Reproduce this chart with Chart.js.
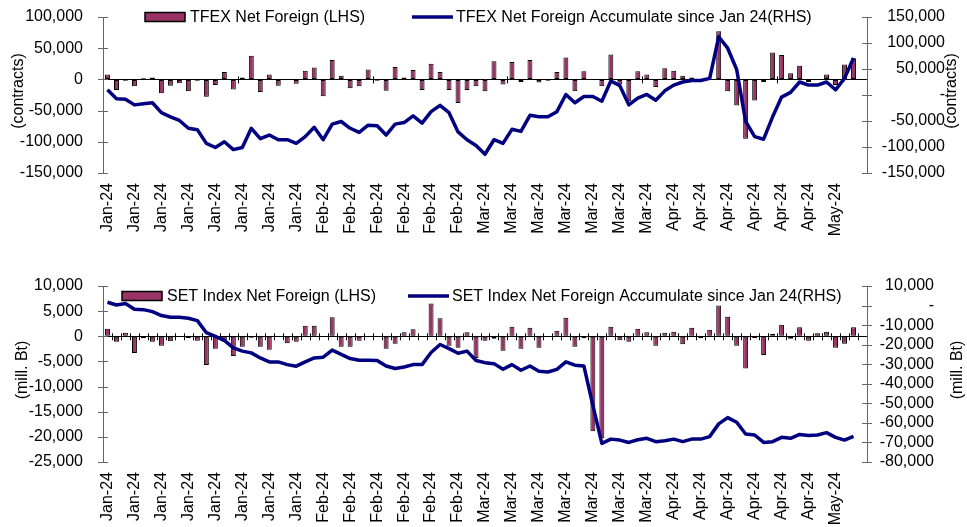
<!DOCTYPE html>
<html>
<head>
<meta charset="utf-8">
<script src="https://cdn.jsdelivr.net/npm/chart.js@4/dist/chart.umd.min.js"></script>
<style>
  body { margin: 0; background: #fff; }
  #wrap { position: relative; width: 967px; height: 527px; }
  canvas { position: absolute; left: 0; }
</style>
</head>
<body>
<div id="wrap">
  <canvas id="tfexChart" width="967" height="263" style="top:0"></canvas>
  <canvas id="setChart" width="967" height="264" style="top:263px"></canvas>
</div>
<script>
// x axis: one label every 3rd trading day
const tickLabels = [
  'Jan-24', 'Jan-24', 'Jan-24', 'Jan-24', 'Jan-24', 'Jan-24', 'Jan-24', 'Jan-24',
  'Feb-24', 'Feb-24', 'Feb-24', 'Feb-24', 'Feb-24', 'Feb-24',
  'Mar-24', 'Mar-24', 'Mar-24', 'Mar-24', 'Mar-24', 'Mar-24', 'Mar-24',
  'Apr-24', 'Apr-24', 'Apr-24', 'Apr-24', 'Apr-24', 'Apr-24',
  'May-24'
];
const nCategories = 85;

// TFEX net foreign, contracts (LHS)
const tfexNet = [
  8000, -17000, -2000, -11000, 2000, 3000, -22000, -10000, -6000, -19000,
  -2000, -28000, -9000, 12000, -16000, 3000, 38000, -20000, 8000, -10000,
  -1000, -7000, 14000, 19000, -27000, 31000, 6000, -14000, -11000, 16000,
  -2000, -18000, 20000, 3000, 15000, -17000, 25000, 12000, -17000, -38000,
  -17000, -11000, -19000, 29000, -8000, 28000, -4000, 31000, -5000, -2000,
  12000, 35000, -19000, 13000, -1000, -11000, 40000, -8000, -35000, 13000,
  8000, -12000, 18000, 14000, 6000, 3000, 1000, 1000, 77000, -19000,
  -42000, -95000, -34000, -4000, 43000, 39000, 10000, 22000, -4000, -1000,
  8000, -9000, 24000, 34000
];
// TFEX accumulate since Jan 24 (RHS)
const tfexAccum = [
  10000, -7000, -8000, -19000, -17000, -15000, -34000, -42000, -49000, -64000,
  -67000, -93000, -101000, -90000, -105000, -101000, -64000, -84000, -77000, -86000,
  -86000, -93000, -80000, -62000, -86000, -56000, -51000, -64000, -72000, -58000,
  -59000, -77000, -56000, -53000, -40000, -54000, -32000, -20000, -34000, -71000,
  -86000, -97000, -114000, -86000, -93000, -66000, -70000, -39000, -42000, -42000,
  -32000, 1000, -15000, -3000, -3000, -12000, 27000, 18000, -19000, -6000,
  1000, -10000, 8000, 19000, 25000, 28000, 28000, 32000, 112000, 90000,
  49000, -51000, -80000, -85000, -42000, -4000, 5000, 25000, 19000, 19000,
  25000, 10000, 32000, 71000
];

// SET index net foreign, mill. Bt (LHS)
const setNet = [
  1500, -1100, 700, -3300, -400, -1100, -1900, -1000, -100, -400,
  -900, -5700, -2500, -1100, -3900, -2100, -300, -2100, -2700, 100,
  -1400, -1100, 2100, 2100, 100, 3800, -2100, -2100, -900, -100,
  -100, -2500, -1500, 800, 1400, -100, 6500, 3600, -1900, -2300,
  800, -4300, -900, -500, -2900, 1900, -2500, 1700, -2300, -100,
  1100, 3700, -2100, -400, -18900, -20300, 1900, -800, -1100, 1500,
  800, -1900, 700, 900, -1600, 1700, -400, 1300, 6100, 3900,
  -1900, -6400, -400, -3700, 500, 2300, -500, 1800, -900, 600,
  900, -2300, -1500, 1800
];
// SET index accumulate since Jan 24 (RHS)
const setAccum = [
  1700, 300, 1000, -1900, -2100, -3100, -5100, -6000, -6000, -6500,
  -7700, -13900, -15800, -17800, -21600, -23300, -24200, -26800, -28800, -28800,
  -30200, -31000, -28800, -26800, -26400, -22800, -25000, -27100, -28000, -28000,
  -28100, -30900, -32200, -31400, -30200, -30200, -24000, -19900, -22000, -24400,
  -23300, -28100, -29200, -29700, -32600, -30200, -33100, -30900, -33600, -34000,
  -32600, -28800, -30500, -30900, -51000, -70500, -68300, -68800, -70000, -68600,
  -67900, -69600, -69100, -68300, -69600, -68300, -68300, -67000, -60500, -57300,
  -59700, -65700, -66200, -70000, -69600, -67400, -67900, -65900, -66500, -66200,
  -65000, -67400, -68800, -66900
];

const categories = Array.from({ length: nCategories }, (_, i) =>
  i % 3 === 0 ? (tickLabels[i / 3] || '') : '');

Chart.defaults.font.family = "'Liberation Sans', Arial, Helvetica, sans-serif";
Chart.defaults.font.size = 16;
Chart.defaults.color = '#000';

const fmt = v => Math.round(v).toLocaleString('en-US');

// axis titles, legend, crossing tick marks
const overlay = {
  id: 'overlay',
  beforeDatasetsDraw(chart, args, o) {
    const c = chart.ctx, x = chart.scales.x, y = chart.scales.y;
    const y0 = y.getPixelForValue(0);
    c.save();
    c.strokeStyle = '#000';
    c.lineWidth = 1;
    for (let k = o.catTickEvery; k < nCategories; k += o.catTickEvery) {
      const px = Math.round((x.getPixelForValue(k - 1) + x.getPixelForValue(k)) / 2) + 0.5;
      c.beginPath();
      c.moveTo(px, y0 - 3);
      c.lineTo(px, y0 + 4);
      c.stroke();
    }
    c.restore();
  },
  afterDraw(chart, args, o) {
    const c = chart.ctx, a = chart.chartArea;
    const yl = chart.scales.y, yr = chart.scales.y1;
    c.save();
    c.strokeStyle = '#666';
    c.lineWidth = 1;
    [[yl, a.left], [yr, a.right]].forEach(([s, ax]) => {
      s.ticks.forEach(t => {
        const py = Math.round(s.getPixelForValue(t.value)) + 0.5;
        c.beginPath();
        c.moveTo(ax - 5, py);
        c.lineTo(ax + 5, py);
        c.stroke();
      });
    });

    c.fillStyle = '#000';
    c.font = "16px 'Liberation Sans', Arial, sans-serif";
    c.textAlign = 'center';
    c.textBaseline = 'middle';
    const midY = (a.top + a.bottom) / 2;
    [[o.leftTitleX, o.leftTitle], [o.rightTitleX, o.rightTitle]].forEach(([tx, txt]) => {
      c.save();
      c.translate(tx, midY - 4);
      c.rotate(-Math.PI / 2);
      c.fillText(txt, 0, 0);
      c.restore();
    });

    // legend
    const L = o.legend;
    c.fillStyle = '#993366';
    c.fillRect(L.barX, L.y - 4.5, 40, 9);
    c.strokeStyle = '#000';
    c.lineWidth = 1.5;
    c.strokeRect(L.barX, L.y - 4.5, 40, 9);
    c.strokeStyle = '#000080';
    c.lineWidth = 3.5;
    c.beginPath();
    c.moveTo(L.lineX, L.y);
    c.lineTo(L.lineX + 41, L.y);
    c.stroke();
    c.fillStyle = '#000';
    c.textAlign = 'left';
    c.fillText(chart.data.datasets[1].label, L.barX + 45, L.y + 1);
    c.fillText(chart.data.datasets[0].label, L.lineX + 44, L.y + 1);
    c.restore();
  }
};

function makeChart(id, cfg) {
  const canvas = document.getElementById(id);
  return new Chart(canvas.getContext('2d'), {
    data: {
      labels: categories,
      datasets: [{
        type: 'line',
        label: cfg.accumLabel,
        data: cfg.accum,
        yAxisID: 'y1',
        borderColor: '#000080',
        borderWidth: 3.5,
        borderJoinStyle: 'round',
        pointRadius: 0,
        tension: 0,
        order: 0
      }, {
        type: 'bar',
        label: cfg.netLabel,
        data: cfg.net,
        yAxisID: 'y',
        backgroundColor: '#993366',
        borderColor: '#000',
        borderWidth: 1,
        borderSkipped: false,
        barPercentage: 0.55,
        categoryPercentage: 1,
        order: 1
      }]
    },
    options: {
      responsive: false,
      animation: false,
      events: [],
      layout: { padding: { top: cfg.plotTop, left: 0, right: cfg.rightPad, bottom: 0 } },
      plugins: {
        legend: { display: false },
        tooltip: { enabled: false },
        overlay: cfg.overlay
      },
      scales: {
        x: {
          offset: true,
          grid: { display: false, drawTicks: false },
          border: { display: false },
          ticks: { autoSkip: false, maxRotation: 90, minRotation: 90, padding: 10 },
          afterFit: s => { s.height = canvas.height - cfg.plotBottom; }
        },
        y: {
          position: 'left',
          min: cfg.leftMin, max: cfg.leftMax,
          ticks: { stepSize: cfg.leftStep, padding: 4, autoSkip: false, callback: v => fmt(v) },
          grid: {
            drawTicks: true,
            tickLength: 16,
            tickColor: 'rgba(0,0,0,0)',
            color: c => (c.tick && c.tick.value === 0 ? '#000' : 'rgba(0,0,0,0)')
          },
          border: { color: '#666' },
          afterFit: s => { s.width = 103; }
        },
        y1: {
          position: 'right',
          min: cfg.rightMin, max: cfg.rightMax,
          ticks: {
            stepSize: cfg.rightStep, padding: 0, crossAlign: 'far', autoSkip: false,
            callback: v => (v === 0 ? '-' : fmt(v))
          },
          grid: { drawOnChartArea: false, drawTicks: false },
          border: { color: '#666' },
          afterFit: s => { s.width = 967 - 867 - cfg.rightPad; }
        }
      }
    },
    plugins: [overlay]
  });
}

makeChart('tfexChart', {
  net: tfexNet, accum: tfexAccum,
  netLabel: 'TFEX Net Foreign (LHS)',
  accumLabel: 'TFEX Net Foreign Accumulate since Jan 24(RHS)',
  plotTop: 17, plotBottom: 173, rightPad: 22,
  leftMin: -150000, leftMax: 100000, leftStep: 50000,
  rightMin: -150000, rightMax: 150000, rightStep: 50000,
  overlay: {
    catTickEvery: 15,
    leftTitle: '(contracts)', rightTitle: '(contracts)',
    leftTitleX: 19, rightTitleX: 952,
    legend: { y: 17, barX: 145, lineX: 412 }
  }
});

makeChart('setChart', {
  net: setNet, accum: setAccum,
  netLabel: 'SET Index Net Foreign (LHS)',
  accumLabel: 'SET Index Net Foreign Accumulate since Jan 24(RHS)',
  plotTop: 23, plotBottom: 199, rightPad: 33,
  leftMin: -25000, leftMax: 10000, leftStep: 5000,
  rightMin: -80000, rightMax: 10000, rightStep: 10000,
  overlay: {
    catTickEvery: 1,
    leftTitle: '(mill. Bt)', rightTitle: '(mill. Bt)',
    leftTitleX: 23, rightTitleX: 958,
    legend: { y: 33, barX: 122, lineX: 408 }
  }
});
</script>
</body>
</html>
